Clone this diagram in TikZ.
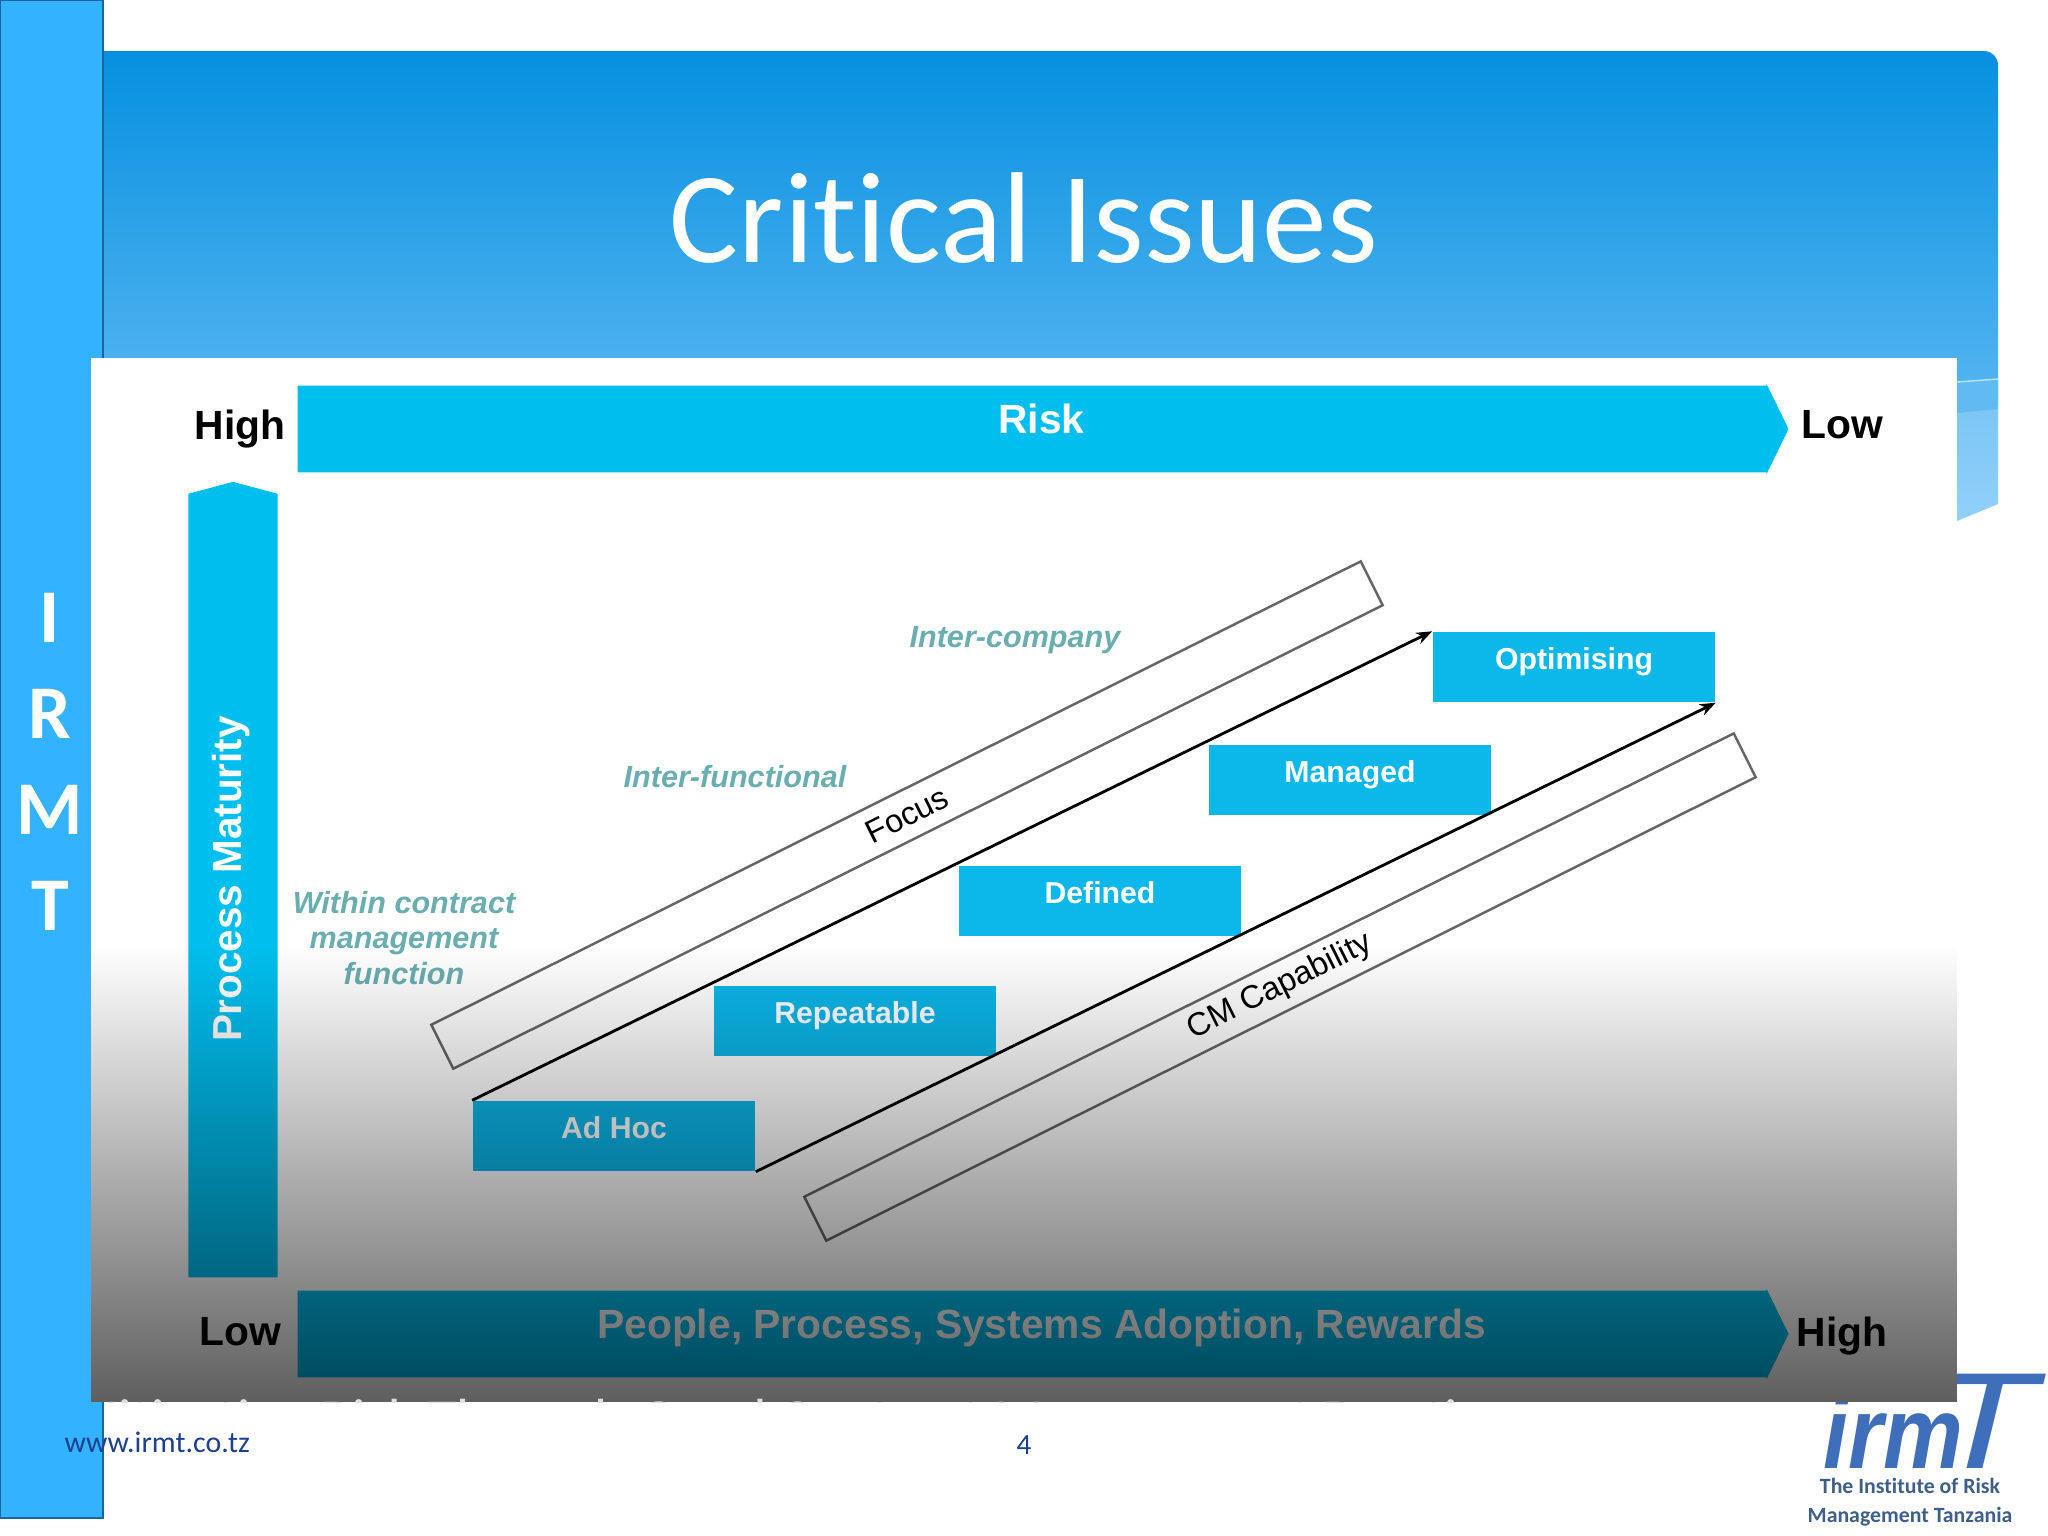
\documentclass[tikz,border=0pt]{standalone}
\usepackage{fontspec}
\setmainfont{Liberation Sans}
\newfontfamily\slidefont[Ligatures=NoCommon]{Carlito}
\usetikzlibrary{arrows.meta}
\usetikzlibrary{shapes.arrows}
\usetikzlibrary{fadings}
\definecolor{bandtop}{HTML}{0690E0}
\definecolor{bandlow}{HTML}{58B7F1}
\definecolor{striptop}{HTML}{7CC6F5}
\definecolor{striplow}{HTML}{92D0FB}
\definecolor{sidefill}{HTML}{33B2FF}
\definecolor{sideedge}{HTML}{1B659C}
\definecolor{barfill}{HTML}{00BFEF}
\definecolor{stagefill}{HTML}{0CB7EA}
\definecolor{scopetext}{HTML}{6AAEB0}
\definecolor{footblue}{HTML}{1F3F8F}
\definecolor{logoblue}{HTML}{3F6FBA}
\definecolor{logotext}{HTML}{3E5F88}
\tikzfading[name=panelfade, top color=transparent!100, middle color=transparent!58, bottom color=transparent!37]
\tikzset{
  axislabel/.style={font=\fontsize{11.6}{14}\selectfont\bfseries, text=black, inner sep=0pt},
  bararrow/.style={single arrow, fill=barfill, inner sep=0pt, text=white, anchor=tail,
    minimum width=0.9cm, single arrow head extend=0.01cm, single arrow tip angle=128,
    font=\fontsize{11.6}{14}\selectfont\bfseries, text depth=0.2cm},
  stagebox/.style={fill=stagefill, text=white, minimum width=2.82cm, minimum height=0.7cm,
    inner sep=0pt, font=\fontsize{8.6}{10}\selectfont\bfseries, text depth=0.17cm},
  slantbar/.style={draw=black!60, fill=white, line width=0.7pt, minimum width=10.38cm,
    minimum height=0.49cm, inner sep=0pt, font=\fontsize{9.2}{11}\selectfont},
  scopelabel/.style={text=scopetext, inner sep=0pt, align=center,
    font=\fontsize{8.7}{10}\selectfont\bfseries\itshape},
  trendline/.style={-{Stealth[length=0.16cm,width=0.12cm]}, line width=0.8pt},
}

\begin{document}
\begin{tikzpicture}[x=0.01cm,y=-0.01cm]
  \def\barangle{26.5}
  \useasboundingbox (0,0) rectangle (2048,1536);
  \fill[white] (0,0) rectangle (2048,1536);

  \shade[rounded corners=0.14cm, top color=bandtop, bottom color=bandlow] (50,51) rectangle (1998,420);
  \fill[bandlow!95!white] (1957,381) -- (1998,379) -- (1998,409) -- (1957,413) -- cycle;
  \shade[top color=striptop, bottom color=striplow]
    (1957,413) -- (1998,409) -- (1998,504) -- (1957,521) -- cycle;
  \draw[white!60!bandlow, line width=0.4pt] (1957,382) -- (1998,379);

  \node[logoblue, inner sep=0pt, anchor=base west, xscale=0.88, font=\fontsize{29}{30}\selectfont\bfseries\itshape] (logoirm) at (1823,1468) {irm};
  \node[logoblue, inner sep=0pt, anchor=base east, xscale=1.25, font=\fontsize{39}{40}\selectfont\itshape] (logot) at (2037,1468) {T};
  \node[logotext, inner sep=0pt, align=center, font=\slidefont\fontsize{6.2}{8.25}\selectfont\bfseries] (logoname) at (1910,1502) {The Institute of Risk\\Management Tanzania};

  \draw[sideedge, fill=sidefill, line width=0.6pt] (0,0) rectangle (103,1518);

  \fill[white] (91,358) rectangle (1957,1402);

  \node[axislabel] (riskhigh) at (240,429) {High};
  \node[axislabel] (risklow) at (1842,425) {Low};
  \node[axislabel] (peoplelow) at (240,1332) {Low};
  \node[axislabel] (peoplehigh) at (1842,1336) {High};

  \node[bararrow, minimum height=14.9cm] (riskbar) at (297,429) {\hspace*{0.18cm}Risk};
  \node[bararrow, minimum height=14.9cm] (peoplebar) at (297,1334) {\hspace*{0.18cm}People, Process, Systems Adoption, Rewards};
  \node[bararrow, rotate=90, minimum height=7.95cm, minimum width=0.89cm, single arrow head extend=0cm, single arrow tip angle=150,
    font=\fontsize{11.5}{12}\selectfont\bfseries, text depth=0.12cm] (maturitybar) at (233,1278) {\hspace*{0.13cm}Process Maturity};

  \node[slantbar, rotate=\barangle] (focusbar) at (907,815) {Focus};
  \node[slantbar, rotate=\barangle] (cmbar) at (1280,987) {CM Capability};

  \node[scopelabel] (intercompany) at (1015,640) {Inter-company};
  \node[scopelabel] (interfunctional) at (735,777) {Inter-functional};
  \node[scopelabel] (withincontract) at (404,938) {Within contract\\management\\function};

  \node[stagebox] (adhoc) at (614,1136) {Ad Hoc};
  \node[stagebox] (repeatable) at (855,1021) {Repeatable};
  \node[stagebox] (defined) at (1100,901) {Defined};
  \node[stagebox] (managed) at (1350,780) {Managed};
  \node[stagebox] (optimising) at (1574,667) {Optimising};

  \fill[black, path fading=panelfade] (91,945) rectangle (1957,1402);

  \draw[trendline] (adhoc.north west) -- (optimising.north west);
  \draw[trendline] (adhoc.south east) -- (optimising.south east);

  \begin{scope}
    \clip (91,1380) rectangle (1957,1402);
    \node[white!88!black, inner sep=0pt, anchor=base west, font=\slidefont\fontsize{16.5}{18}\selectfont] (clippedline) at (68,1439) {Mitigating Risk Through Good Contract Management Practice};
  \end{scope}

  \node[white, inner sep=0pt, font=\slidefont\fontsize{36.8}{44}\selectfont] (slidetitle) at (1024,218) {Critical Issues};
  \node[white, inner sep=0pt, align=center, font=\slidefont\fontsize{21.6}{27.3}\selectfont\bfseries] (sideword) at (50,762) {I\\R\\M\\T};
  \node[footblue, inner sep=0pt, anchor=west, font=\slidefont\fontsize{8.5}{10}\selectfont] (footurl) at (64,1442) {www.irmt.co.tz};
  \node[footblue, inner sep=0pt, font=\slidefont\fontsize{8.3}{10}\selectfont] (footpage) at (1024,1445) {4};
\end{tikzpicture}
\end{document}
